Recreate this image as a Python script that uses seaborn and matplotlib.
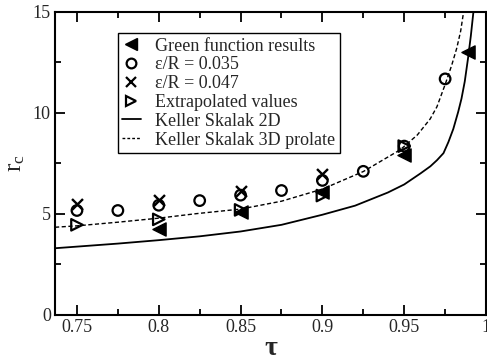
import numpy as np
import pandas as pd
import matplotlib
matplotlib.use("Agg")
import matplotlib.pyplot as plt
from matplotlib.ticker import MultipleLocator
from matplotlib.lines import Line2D
import seaborn as sns

# Critical confinement ratio r_c versus tau
tau_green = [0.80, 0.85, 0.90, 0.95, 0.989]
rc_green = [4.25, 5.10, 6.10, 7.90, 13.00]

tau_eps035 = [0.75, 0.775, 0.80, 0.825, 0.85, 0.875, 0.90, 0.925, 0.95, 0.975]
rc_eps035 = [5.16, 5.16, 5.42, 5.65, 5.92, 6.15, 6.65, 7.10, 8.35, 11.68]

tau_eps047 = [0.75, 0.80, 0.85, 0.90]
rc_eps047 = [5.50, 5.68, 6.12, 6.95]

tau_extrap = [0.75, 0.80, 0.85, 0.90, 0.95]
rc_extrap = [4.45, 4.72, 5.19, 5.90, 8.35]

# Keller-Skalak curves
tau_ks2d = [0.7366, 0.75, 0.775, 0.80, 0.825, 0.85, 0.875, 0.90, 0.92, 0.94,
            0.95, 0.96, 0.966, 0.97, 0.974, 0.977, 0.98, 0.983, 0.985,
            0.987, 0.989, 0.9907, 0.9923]
rc_ks2d = [3.29, 3.37, 3.52, 3.69, 3.88, 4.12, 4.45, 4.95, 5.40, 6.05,
           6.45, 7.00, 7.35, 7.65, 8.00, 8.55, 9.20, 10.05, 10.70,
           11.55, 12.70, 13.80, 15.0]

tau_ks3d = [0.7366, 0.75, 0.775, 0.80, 0.8226, 0.85, 0.875, 0.90, 0.925,
            0.9476, 0.958, 0.9659, 0.970, 0.975, 0.979, 0.9821, 0.9845,
            0.9862]
rc_ks3d = [4.33, 4.40, 4.58, 4.78, 5.00, 5.23, 5.62, 6.22, 7.09,
           8.17, 8.90, 9.70, 10.30, 11.40, 12.35, 13.20, 14.05,
           14.95]

sns.set_theme(style="ticks")
plt.rcParams["font.family"] = ["Liberation Serif", "DejaVu Serif"]
plt.rcParams["mathtext.fontset"] = "stix"

fig = plt.figure(figsize=(4.87, 3.60), dpi=100)
ax = fig.add_axes([0.113, 0.126, 0.885, 0.841])

sns.lineplot(x=tau_ks2d, y=rc_ks2d, ax=ax, color="black", lw=1.3,
             sort=False, estimator=None)
sns.lineplot(x=tau_ks3d, y=rc_ks3d, ax=ax, color="black", lw=1.0,
             sort=False, estimator=None, linestyle=(0, (3, 1.8)))

sns.scatterplot(x=tau_green, y=rc_green, ax=ax, marker="<", s=90,
                color="black", edgecolor="black", linewidth=1.0, zorder=5)
sns.scatterplot(x=tau_eps035, y=rc_eps035, ax=ax, marker="o", s=58,
                facecolor="none", edgecolor="black", linewidth=1.6, zorder=5)
sns.scatterplot(x=tau_eps047, y=rc_eps047, ax=ax, marker="x", s=62,
                color="black", linewidth=1.7, zorder=5)
sns.scatterplot(x=tau_extrap, y=rc_extrap, ax=ax, marker=">", s=68,
                facecolor="none", edgecolor="black", linewidth=1.6, zorder=5)

ax.set_xlim(0.7366, 1.0)
ax.set_ylim(0, 15)
ax.xaxis.set_minor_locator(MultipleLocator(0.025))
ax.yaxis.set_minor_locator(MultipleLocator(2.5))
ax.set_xticks([0.75, 0.8, 0.85, 0.9, 0.95, 1.0])
ax.set_xticklabels(["0.75", "0.8", "0.85", "0.9", "0.95", "1"])
ax.set_yticks([0, 5, 10, 15])
ax.set_yticklabels(["0", "5", "10", "15"])

ax.tick_params(which="both", direction="in", top=True, right=True,
               color="black", labelsize=13, width=1.3, pad=3)
ax.tick_params(which="major", length=7)
ax.tick_params(which="minor", length=4)
for sp in ax.spines.values():
    sp.set_linewidth(1.5)
    sp.set_color("black")

ax.set_xlabel("τ", fontsize=20, fontweight="bold", labelpad=0)
ax.set_ylabel(r"$\mathregular{r_c}$", fontsize=18, labelpad=4)

handles = [
    Line2D([], [], ls="none", marker="<", color="black", markersize=8.5),
    Line2D([], [], ls="none", marker="o", mfc="none", mec="black",
           mew=1.6, markersize=7),
    Line2D([], [], ls="none", marker="x", color="black", mew=1.6,
           markersize=7.5),
    Line2D([], [], ls="none", marker=">", mfc="none", mec="black",
           mew=1.6, markersize=7),
    Line2D([], [], color="black", lw=1.3),
    Line2D([], [], color="black", lw=1.0, ls=(0, (2, 1.5))),
]
labels = ["Green function results", "ε/R = 0.035", "ε/R = 0.047",
          "Extrapolated values", "Keller Skalak 2D",
          "Keller Skalak 3D prolate"]
leg = ax.legend(handles, labels, loc="upper left",
                bbox_to_anchor=(0.146, 0.93), fontsize=13,
                frameon=True, fancybox=False, framealpha=1,
                edgecolor="black", borderpad=0.25, labelspacing=0.1,
                handlelength=1.0, handletextpad=0.8, borderaxespad=0)
leg.get_frame().set_linewidth(1.0)

fig.savefig("out.png", dpi=100)
